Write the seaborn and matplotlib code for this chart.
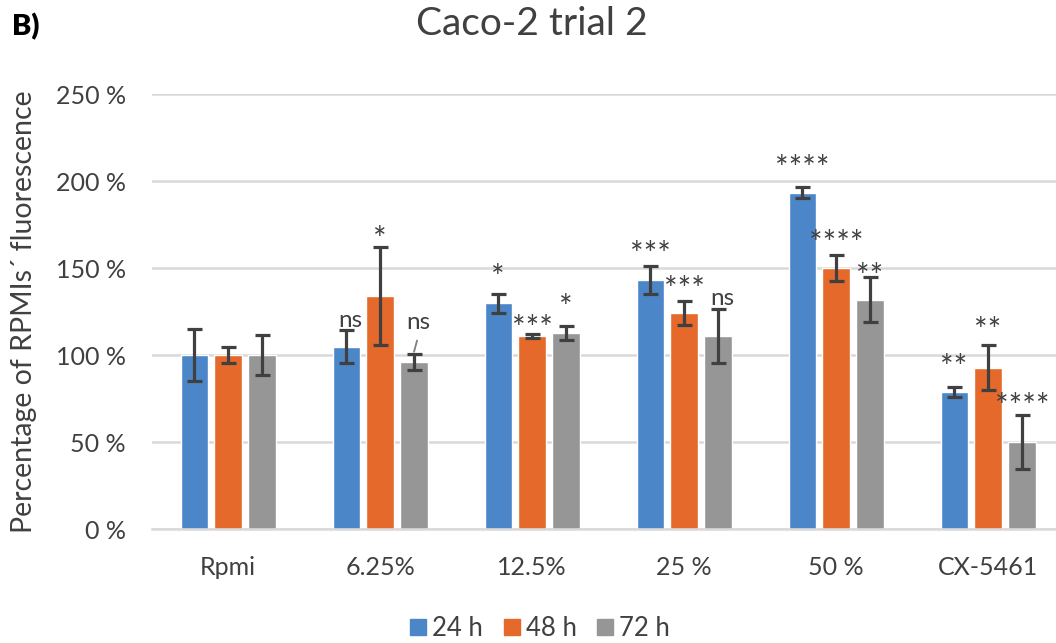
import matplotlib
matplotlib.use("Agg")
import matplotlib.pyplot as plt
import seaborn as sns
import pandas as pd
from matplotlib.lines import Line2D
from matplotlib.transforms import offset_copy

# ---- data -------------------------------------------------------------
categories = ["Rpmi", "6.25%", "12.5%", "25 %", "50 %", "CX-5461"]
times = ["24 h", "48 h", "72 h"]

mean_24h = [100, 105, 130, 143.5, 193.5, 79]
mean_48h = [100, 134, 111, 124.5, 150, 93]
mean_72h = [100, 96, 113, 111, 132, 50]

sd_24h = [15, 9.5, 5.5, 8, 3, 3]
sd_48h = [4.5, 28, 1, 7, 7.5, 13]
sd_72h = [11.5, 4.5, 4, 15.5, 13, 15.5]

sig_24h = ["", "ns", "*", "***", "****", "**"]
sig_48h = ["", "*", "***", "***", "****", "**"]
sig_72h = ["", "ns", "*", "ns", "**", "****"]

# heights (in %) at which the significance marks are written
sig_y_24h = [0, 120.3, 149, 162.2, 211.7, 97.3]
sig_y_48h = [0, 170.9, 119.7, 142.1, 168.6, 118.7]
sig_y_72h = [0, 118.6, 131.8, 132.9, 149.6, 74.9]

yticks = [0, 50, 100, 150, 200, 250]
ytick_labels = ["0 %", "50 %", "100 %", "150 %", "200 %", "250 %"]

colors = ["#4A86C8", "#E5692A", "#969696"]

# ---- long-form table --------------------------------------------------
means = [mean_24h, mean_48h, mean_72h]
sds = [sd_24h, sd_48h, sd_72h]
sigs = [sig_24h, sig_48h, sig_72h]
sig_ys = [sig_y_24h, sig_y_48h, sig_y_72h]

rows = []
for t, m in zip(times, means):
    for c, v in zip(categories, m):
        rows.append({"group": c, "time": t, "value": v})
df = pd.DataFrame(rows)

# ---- figure -----------------------------------------------------------
sns.set_theme(style="white")
plt.rcParams["font.family"] = ["Lato", "DejaVu Sans"]
text_color = "#404040"

fig = plt.figure(figsize=(10.56, 6.43), dpi=100)
ax = fig.add_axes([0.144, 0.1768, 0.856, 0.6765])

sns.barplot(data=df, x="group", y="value", hue="time", order=categories,
            hue_order=times, palette=colors, errorbar=None, width=0.67,
            gap=0.2, saturation=1, ax=ax, legend=False)

# asterisks sit high in the glyph box; shift them down so their centre
# lands on the requested height
star_tf = offset_copy(ax.transData, fig=fig, x=0, y=-6.5, units="points")

# error bars and significance marks placed on each bar
for i, t in enumerate(times):
    container = ax.containers[i]
    for j, patch in enumerate(container.patches):
        xc = patch.get_x() + patch.get_width() / 2
        ax.errorbar(xc, means[i][j], yerr=sds[i][j], fmt="none",
                    ecolor=text_color, elinewidth=2.3, capsize=5.4,
                    capthick=2.3, zorder=5)
        label = sigs[i][j]
        if label:
            if label.startswith("*"):
                ax.text(xc, sig_ys[i][j], label, ha="center", va="center",
                        fontsize=23, color=text_color, zorder=6,
                        transform=star_tf)
            else:
                ax.text(xc + 0.03, sig_ys[i][j], label, ha="center",
                        va="center", fontsize=17.5, color=text_color,
                        zorder=6)

# short leader from the "ns" mark to the 72 h bar of the 6.25% group
p = ax.containers[2].patches[1]
xl = p.get_x() + p.get_width() / 2
ax.plot([xl + 0.02, xl], [108.5, 102], color="#7f7f7f", lw=1.3, zorder=6)

ax.set_xlim(-0.5, 5.447)
ax.set_ylim(0, 250)
ax.set_yticks(yticks)
ax.set_yticklabels(ytick_labels)
ax.yaxis.grid(True, color="#D9D9D9", linewidth=1.8)
ax.set_axisbelow(True)
for s in ["top", "right", "left"]:
    ax.spines[s].set_visible(False)
ax.spines["bottom"].set_color("#D9D9D9")
ax.spines["bottom"].set_linewidth(1.8)
ax.tick_params(axis="both", length=0, labelsize=18, colors=text_color)
ax.tick_params(axis="x", pad=19)
ax.tick_params(axis="y", pad=19)
ax.set_xlabel("")
ax.set_ylabel("Percentage of RPMIs\u00b4 fluorescence", fontsize=20.5,
              color=text_color)
ax.yaxis.set_label_coords(-0.127, 0.5)

fig.text(0.504, 0.962, "Caco-2 trial 2", ha="center", va="center",
         fontsize=28, color=text_color)
fig.text(0.011, 0.958, "B)", ha="left", va="center", fontsize=21,
         fontweight="heavy", color="#000000")

handles = [Line2D([0], [0], marker="s", linestyle="", markersize=11.5,
                  markerfacecolor=c, markeredgecolor=c) for c in colors]
fig.legend(handles, times, loc="center", bbox_to_anchor=(0.511, 0.022),
           ncol=3, frameon=False, fontsize=18.5, handletextpad=0.2,
           columnspacing=0.75, labelcolor=text_color, handlelength=0.7,
           borderpad=0)

fig.savefig("out.png", dpi=100)
